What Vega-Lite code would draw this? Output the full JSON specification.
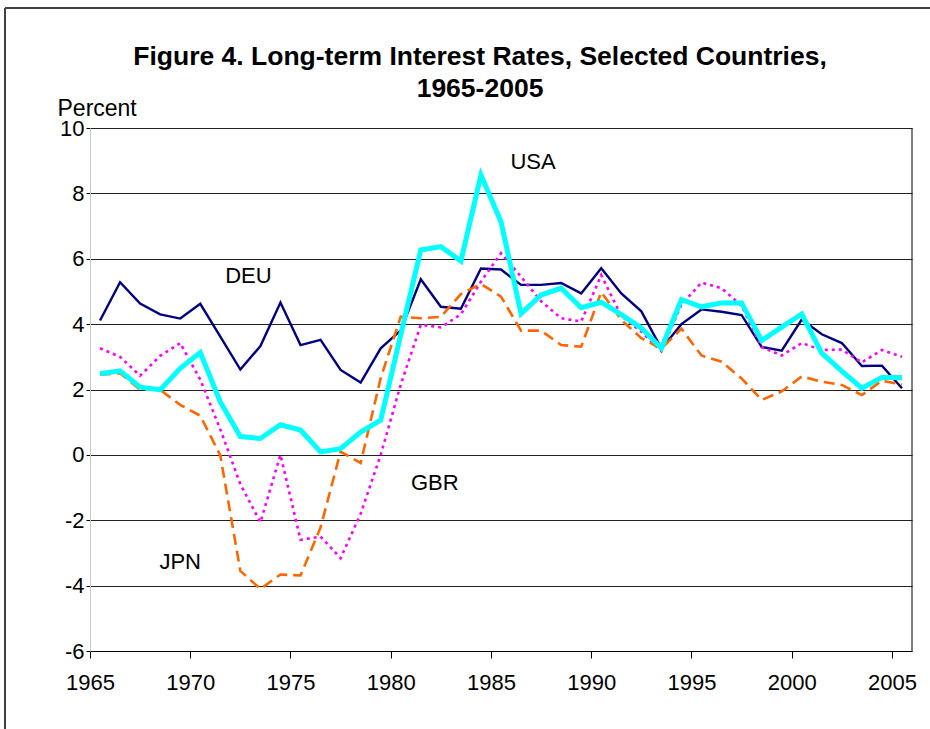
{
  "$schema": "https://vega.github.io/schema/vega-lite/v6.json",
  "width": 822,
  "height": 523,
  "autosize": {"type": "none"},
  "padding": {"left": 90, "top": 128, "right": 18, "bottom": 78},
  "background": "white",
  "config": {"font": "Liberation Sans", "view": {"stroke": null}},
  "title": {
    "text": ["Figure 4. Long-term Interest Rates, Selected Countries,", "1965-2005"],
    "fontSize": 26.5,
    "fontWeight": "bold",
    "font": "Liberation Sans",
    "color": "black",
    "anchor": "middle",
    "frame": "group",
    "dx": -21,
    "lineHeight": 32,
    "offset": -95
  },
  "datasets": {
    "rates": [
      {"year": 1965, "DEU": 4.11, "GBR": 3.26, "JPN": 2.45, "USA": 2.48},
      {"year": 1966, "DEU": 5.28, "GBR": 3.0, "JPN": 2.5, "USA": 2.57},
      {"year": 1967, "DEU": 4.63, "GBR": 2.42, "JPN": 2.0, "USA": 2.07},
      {"year": 1968, "DEU": 4.3, "GBR": 3.03, "JPN": 1.99, "USA": 1.99},
      {"year": 1969, "DEU": 4.17, "GBR": 3.42, "JPN": 1.53, "USA": 2.65},
      {"year": 1970, "DEU": 4.62, "GBR": 2.3, "JPN": 1.2, "USA": 3.13},
      {"year": 1971, "DEU": 3.62, "GBR": 0.78, "JPN": -0.02, "USA": 1.62},
      {"year": 1972, "DEU": 2.61, "GBR": -0.9, "JPN": -3.55, "USA": 0.56},
      {"year": 1973, "DEU": 3.33, "GBR": -2.06, "JPN": -4.1, "USA": 0.5},
      {"year": 1974, "DEU": 4.66, "GBR": 0.0, "JPN": -3.66, "USA": 0.92},
      {"year": 1975, "DEU": 3.36, "GBR": -2.6, "JPN": -3.69, "USA": 0.76},
      {"year": 1976, "DEU": 3.52, "GBR": -2.5, "JPN": -2.22, "USA": 0.09},
      {"year": 1977, "DEU": 2.6, "GBR": -3.16, "JPN": 0.1, "USA": 0.19},
      {"year": 1978, "DEU": 2.21, "GBR": -1.8, "JPN": -0.25, "USA": 0.7},
      {"year": 1979, "DEU": 3.26, "GBR": 0.0, "JPN": 2.35, "USA": 1.06},
      {"year": 1980, "DEU": 3.81, "GBR": 2.15, "JPN": 4.23, "USA": 3.68},
      {"year": 1981, "DEU": 5.37, "GBR": 3.98, "JPN": 4.18, "USA": 6.27},
      {"year": 1982, "DEU": 4.53, "GBR": 3.9, "JPN": 4.22, "USA": 6.37},
      {"year": 1983, "DEU": 4.47, "GBR": 4.3, "JPN": 4.92, "USA": 5.93},
      {"year": 1984, "DEU": 5.7, "GBR": 5.3, "JPN": 5.23, "USA": 8.56},
      {"year": 1985, "DEU": 5.67, "GBR": 6.17, "JPN": 4.84, "USA": 7.13},
      {"year": 1986, "DEU": 5.2, "GBR": 5.45, "JPN": 3.8, "USA": 4.32},
      {"year": 1987, "DEU": 5.2, "GBR": 4.7, "JPN": 3.8, "USA": 4.89},
      {"year": 1988, "DEU": 5.26, "GBR": 4.18, "JPN": 3.36, "USA": 5.1},
      {"year": 1989, "DEU": 4.94, "GBR": 4.08, "JPN": 3.31, "USA": 4.5},
      {"year": 1990, "DEU": 5.71, "GBR": 5.5, "JPN": 4.98, "USA": 4.67},
      {"year": 1991, "DEU": 4.94, "GBR": 4.25, "JPN": 4.13, "USA": 4.29},
      {"year": 1992, "DEU": 4.39, "GBR": 3.77, "JPN": 3.57, "USA": 3.88},
      {"year": 1993, "DEU": 3.25, "GBR": 3.17, "JPN": 3.25, "USA": 3.26},
      {"year": 1994, "DEU": 4.0, "GBR": 4.6, "JPN": 3.86, "USA": 4.75},
      {"year": 1995, "DEU": 4.45, "GBR": 5.27, "JPN": 3.04, "USA": 4.53},
      {"year": 1996, "DEU": 4.38, "GBR": 5.1, "JPN": 2.85, "USA": 4.65},
      {"year": 1997, "DEU": 4.28, "GBR": 4.56, "JPN": 2.34, "USA": 4.65},
      {"year": 1998, "DEU": 3.3, "GBR": 3.3, "JPN": 1.68, "USA": 3.5},
      {"year": 1999, "DEU": 3.19, "GBR": 3.04, "JPN": 1.94, "USA": 3.91},
      {"year": 2000, "DEU": 4.14, "GBR": 3.42, "JPN": 2.4, "USA": 4.31},
      {"year": 2001, "DEU": 3.69, "GBR": 3.21, "JPN": 2.24, "USA": 3.11},
      {"year": 2002, "DEU": 3.42, "GBR": 3.22, "JPN": 2.14, "USA": 2.56},
      {"year": 2003, "DEU": 2.72, "GBR": 2.83, "JPN": 1.83, "USA": 2.04},
      {"year": 2004, "DEU": 2.73, "GBR": 3.21, "JPN": 2.27, "USA": 2.37},
      {"year": 2005, "DEU": 2.04, "GBR": 3.0, "JPN": 2.15, "USA": 2.37}
    ],
    "labels": [
      {"label": "USA", "year": 1986.6, "rate": 8.96},
      {"label": "DEU", "year": 1972.4, "rate": 5.47},
      {"label": "GBR", "year": 1981.7, "rate": -0.86},
      {"label": "JPN", "year": 1969.0, "rate": -3.27}
    ],
    "frame": [{"part": "frame"}]
  },
  "layer": [
    {
      "data": {"name": "rates"},
      "transform": [{"fold": ["DEU", "GBR", "JPN", "USA"], "as": ["country", "rate"]}],
      "encoding": {
        "x": {
          "field": "year",
          "type": "quantitative",
          "scale": {"domain": [1964.5, 2005.5], "nice": false, "zero": false},
          "axis": {
            "title": null,
            "values": [1964.5, 1969.5, 1974.5, 1979.5, 1984.5, 1989.5, 1994.5, 1999.5, 2004.5],
            "labelExpr": "'' + (datum.value + 0.5)",
            "labelDx": 10,
            "labelFontSize": 22,
            "labelColor": "black",
            "labelPadding": 14,
            "labelFlush": false,
            "labelOverlap": false,
            "tickSize": 7,
            "tickColor": "black",
            "domainColor": "black",
            "domainWidth": 1,
            "grid": false
          }
        },
        "y": {
          "field": "rate",
          "type": "quantitative",
          "scale": {"domain": [-6, 10], "nice": false, "zero": false},
          "axis": {
            "values": [-6, -4, -2, 0, 2, 4, 6, 8, 10],
            "labelExpr": "'' + datum.value",
            "title": "Percent",
            "titleAngle": 0,
            "titleAlign": "left",
            "titleBaseline": "middle",
            "titleX": -33,
            "titleY": -20,
            "titleFontSize": 23,
            "titleFontWeight": "normal",
            "titleColor": "black",
            "labelFontSize": 22,
            "labelColor": "black",
            "labelPadding": 2,
            "tickSize": 4,
            "tickColor": "black",
            "domainColor": "#c8c8c8",
            "grid": true,
            "gridColor": "#222222",
            "gridWidth": 1
          }
        }
      },
      "layer": [
        {
          "transform": [{"filter": "datum.country === 'DEU'"}],
          "mark": {"type": "line", "color": "#000080", "strokeWidth": 2.4}
        },
        {
          "transform": [{"filter": "datum.country === 'GBR'"}],
          "mark": {"type": "line", "color": "#FF00FF", "strokeWidth": 2.6, "strokeDash": [3, 4]}
        },
        {
          "transform": [{"filter": "datum.country === 'JPN'"}],
          "mark": {"type": "line", "color": "#FF6600", "strokeWidth": 2.6, "strokeDash": [11, 6]}
        },
        {
          "transform": [{"filter": "datum.country === 'USA'"}],
          "mark": {"type": "line", "color": "#00FFFF", "strokeWidth": 5}
        }
      ]
    },
    {
      "data": {"name": "labels"},
      "mark": {"type": "text", "fontSize": 22, "color": "black", "font": "Liberation Sans"},
      "encoding": {
        "x": {"field": "year", "type": "quantitative"},
        "y": {"field": "rate", "type": "quantitative"},
        "text": {"field": "label"}
      }
    },
    {
      "data": {"name": "frame"},
      "mark": {"type": "rule", "color": "black", "strokeWidth": 1},
      "encoding": {
        "x": {"datum": 2005.5, "type": "quantitative"},
        "y": {"datum": -6, "type": "quantitative"},
        "y2": {"datum": 10}
      }
    },
    {
      "data": {"name": "frame"},
      "mark": {"type": "rule", "color": "#404040", "strokeWidth": 2, "clip": false},
      "encoding": {
        "x": {"datum": 1960.26, "type": "quantitative"},
        "x2": {"datum": 2008},
        "y": {"datum": 13.67, "type": "quantitative"}
      }
    },
    {
      "data": {"name": "frame"},
      "mark": {"type": "rule", "color": "#404040", "strokeWidth": 2, "clip": false},
      "encoding": {
        "x": {"datum": 1960.26, "type": "quantitative"},
        "y": {"datum": -9, "type": "quantitative"},
        "y2": {"datum": 13.67}
      }
    }
  ]
}
